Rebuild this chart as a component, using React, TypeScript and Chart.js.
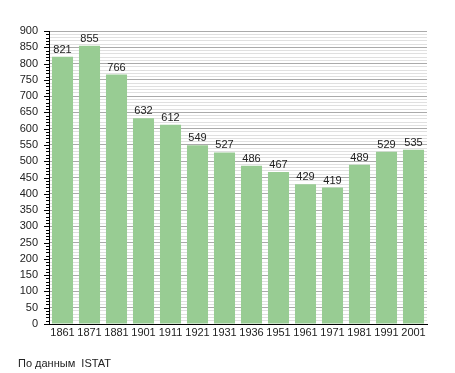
import React, { useEffect, useRef } from "react";
import { Chart, registerables } from "chart.js";

Chart.register(...registerables);

const years = ["1861", "1871", "1881", "1901", "1911", "1921", "1931", "1936", "1951", "1961", "1971", "1981", "1991", "2001"];
const population = [821, 855, 766, 632, 612, 549, 527, 486, 467, 429, 419, 489, 529, 535];
const yMin = 0;
const yMax = 900;
const minorStep = 10;
const majorStep = 50;
const sourceNote = "По данным  ISTAT";

const FONT = "'Liberation Sans', Arial, sans-serif";

export default function App() {
  const ref = useRef<HTMLCanvasElement | null>(null);

  useEffect(() => {
    if (!ref.current) return;
    const valueLabels = {
      id: "valueLabels",
      afterDatasetsDraw(chart: any) {
        const { ctx } = chart;
        const meta = chart.getDatasetMeta(0);
        ctx.save();
        ctx.font = `11px ${FONT}`;
        ctx.fillStyle = "#222";
        ctx.textAlign = "center";
        ctx.textBaseline = "alphabetic";
        meta.data.forEach((bar: any, i: number) => {
          ctx.fillText(String(population[i]), bar.x, bar.y - 4);
        });
        ctx.restore();
      },
    };
    const minorTicks = {
      id: "minorTicks",
      afterDraw(chart: any) {
        const { ctx } = chart;
        const y = chart.scales.y;
        const left = chart.chartArea.left;
        ctx.save();
        ctx.strokeStyle = "#000";
        ctx.lineWidth = 1;
        for (let v = yMin; v <= yMax; v += minorStep) {
          const py = Math.round(y.getPixelForValue(v)) + 0.5;
          const len = v % majorStep === 0 ? 5 : 3;
          ctx.beginPath();
          ctx.moveTo(left - len, py);
          ctx.lineTo(left, py);
          ctx.stroke();
        }
        ctx.restore();
      },
    };
    const chart = new Chart(ref.current, {
      type: "bar",
      data: {
        labels: years,
        datasets: [
          {
            data: population,
            backgroundColor: "#98cc93",
            borderWidth: 0,
            barPercentage: 0.78,
            categoryPercentage: 1,
          },
        ],
      },
      plugins: [valueLabels, minorTicks],
      options: {
        animation: false,
        responsive: false,
        maintainAspectRatio: false,
        devicePixelRatio: 1,
        layout: { padding: { left: 0, top: 31, right: 28, bottom: 0 } },
        plugins: { legend: { display: false }, tooltip: { enabled: false } },
        scales: {
          x: {
            grid: { display: false, drawTicks: false },
            border: { display: true, color: "#000", width: 1 },
            ticks: {
              color: "#222",
              font: { family: FONT, size: 11 },
              padding: 2,
              autoSkip: false,
              maxRotation: 0,
            },
            afterFit(scale: any) {
              scale.height = 49;
            },
          },
          y: {
            min: yMin,
            max: yMax,
            border: { display: true, color: "#000", width: 1 },
            grid: {
              color: (c: any) => (c.tick && c.tick.value % majorStep === 0 ? "#aaaaaa" : "#e0e0e0"),
              drawTicks: false,
              lineWidth: 1,
            },
            ticks: {
              stepSize: minorStep,
              autoSkip: false,
              color: "#222",
              font: { family: FONT, size: 11 },
              padding: 11,
              callback: (v: any) => (Number(v) % majorStep === 0 ? String(v) : ""),
            },
            afterFit(scale: any) {
              scale.width = 49;
            },
          },
        },
      },
    });
    return () => chart.destroy();
  }, []);

  return (
    <div style={{ position: "absolute", left: 0, top: 0, width: 455, height: 373, background: "#fff" }}>
      <canvas ref={ref} width={455} height={373} style={{ position: "absolute", left: 0, top: 0 }} />
      <div
        style={{
          position: "absolute",
          left: 18,
          top: 357,
          fontFamily: FONT,
          fontSize: 11,
          color: "#222",
          whiteSpace: "pre",
        }}
      >
        {sourceNote}
      </div>
    </div>
  );
}
